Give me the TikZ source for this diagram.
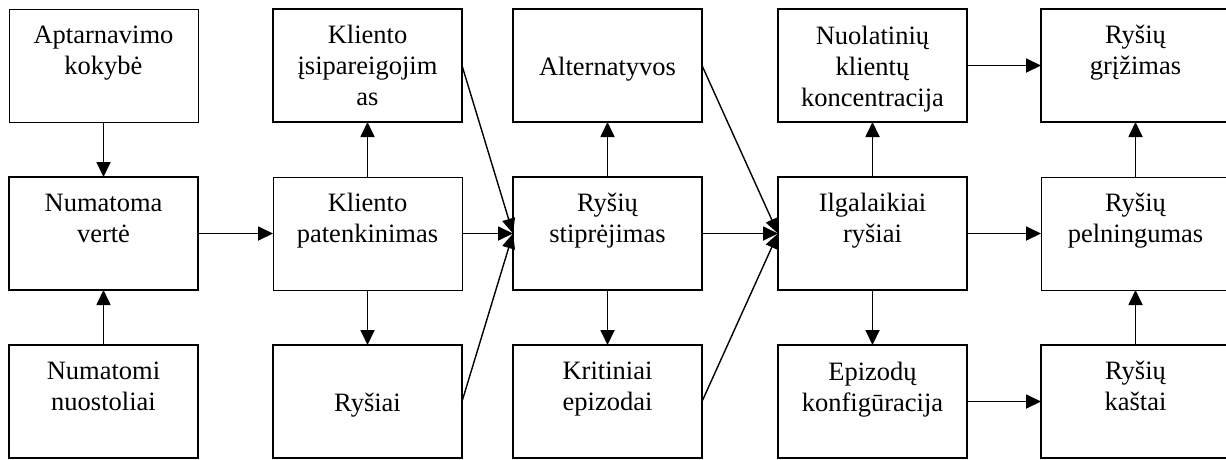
\documentclass[tikz,border=0pt]{standalone}
\usepackage{fontspec}
\setmainfont{Liberation Serif}
\usetikzlibrary{arrows.meta,calc}
\newcommand{\cellrows}[1]{\begin{tabular}[t]{@{}c@{}}#1\end{tabular}}
\begin{document}
\begin{tikzpicture}[x=1pt,y=-1pt,
  box/.style={draw, line width=1.6pt, minimum width=189pt, minimum height=113pt,
    inner sep=0pt, outer sep=0pt, anchor=north west},
  thinbox/.style={box, line width=0.9pt},
  txt/.style={anchor=base, inner sep=0pt, font=\fontsize{26.5}{31}\selectfont},
  link/.style={line width=1.8pt, -{Triangle[length=15pt,width=14pt]}},
  slant/.style={line width=1.4pt, -{Triangle[length=15pt,width=13pt]}}]
\clip (0,0) rectangle (1226,459);
\fill[white] (0,0) rectangle (1226,459);

% boxes: five columns, three rows
\node[thinbox] (aq) at (9,9) {};
\node[box] (nv) at (9,177) {};
\node[box] (nn) at (9,345) {};
\node[box] (ki) at (273,9) {};
\node[thinbox] (kp) at (273,177) {};
\node[box] (ry) at (273,345) {};
\node[box] (alt) at (513,9) {};
\node[box] (rs) at (513,177) {};
\node[box] (kr) at (513,345) {};
\node[box] (nk) at (778,9) {};
\node[box] (il) at (778,177) {};
\node[box] (ep) at (778,345) {};
\node[box] (rg) at (1041,9) {};
\node[thinbox] (rp) at (1041,177) {};
\node[box] (rk) at (1041,345) {};

% texts
\node[txt] (taq) at ($(aq.north)+(0,34)$) {\cellrows{Aptarnavimo\\kokybė}};
\node[txt] (tnv) at ($(nv.north)+(0,34)$) {\cellrows{Numatoma\\vertė}};
\node[txt] (tnn) at ($(nn.north)+(0,34)$) {\cellrows{Numatomi\\nuostoliai}};
\node[txt] (tki) at ($(ki.north)+(0,34)$) {\cellrows{Kliento\\įsipareigojim\\as}};
\node[txt] (tkp) at ($(kp.north)+(0,34)$) {\cellrows{Kliento\\patenkinimas}};
\node[txt] (try) at ($(ry.north)+(0,66)$) {Ryšiai};
\node[txt] (talt) at ($(alt.north)+(0,66)$) {Alternatyvos};
\node[txt] (trs) at ($(rs.north)+(0,34)$) {\cellrows{Ryšių\\stiprėjimas}};
\node[txt] (tkr) at ($(kr.north)+(0,34)$) {\cellrows{Kritiniai\\epizodai}};
\node[txt] (tnk) at ($(nk.north)+(0,35)$) {\cellrows{Nuolatinių\\klientų\\koncentracija}};
\node[txt] (til) at ($(il.north)+(0,34)$) {\cellrows{Ilgalaikiai\\ryšiai}};
\node[txt] (tep) at ($(ep.north)+(0,35)$) {\cellrows{Epizodų\\konfigūracija}};
\node[txt] (trg) at ($(rg.north)+(0,34)$) {\cellrows{Ryšių\\grįžimas}};
\node[txt] (trp) at ($(rp.north)+(0,34)$) {\cellrows{Ryšių\\pelningumas}};
\node[txt] (trk) at ($(rk.north)+(0,34)$) {\cellrows{Ryšių\\kaštai}};

% connectors
\draw[link] (aq) -- (nv);
\draw[link] (nn) -- (nv);
\draw[link] (nv) -- (kp);
\draw[link] (kp) -- (ki);
\draw[link] (kp) -- (ry);
\draw[slant] (ki.east) -- (rs.west);
\draw[link] (kp) -- (rs);
\draw[slant] (ry.east) -- (rs.west);
\draw[link] (rs) -- (alt);
\draw[link] (rs) -- (kr);
\draw[slant] (alt.east) -- (il.west);
\draw[link] (rs) -- (il);
\draw[slant] (kr.east) -- (il.west);
\draw[link] (il) -- (nk);
\draw[link] (il) -- (ep);
\draw[link] (nk) -- (rg);
\draw[link] (il) -- (rp);
\draw[link] (ep) -- (rk);
\draw[link] (rp) -- (rg);
\draw[link] (rk) -- (rp);
\end{tikzpicture}
\end{document}
